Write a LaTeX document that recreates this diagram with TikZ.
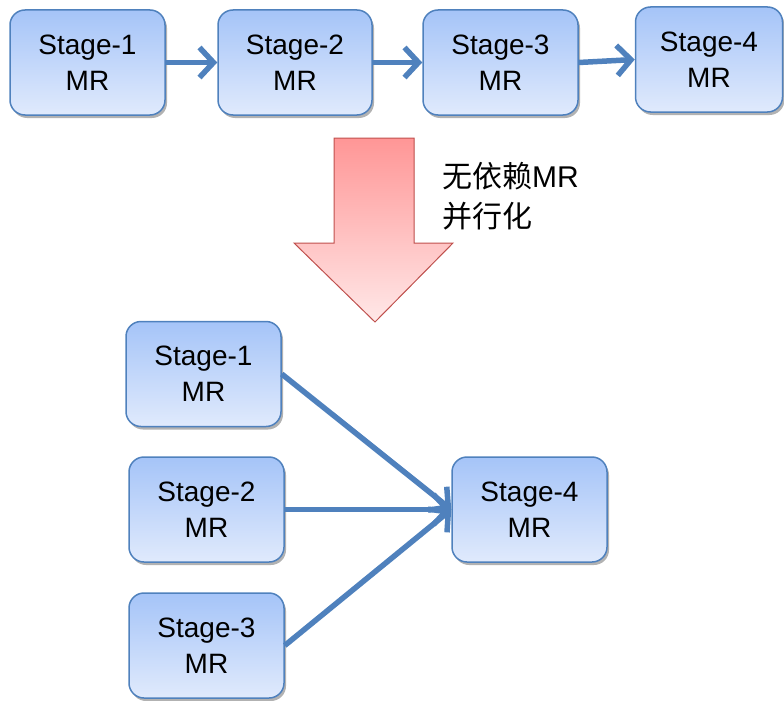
\documentclass[tikz,border=0pt]{standalone}
\usepackage{fontspec}
\setmainfont{Liberation Sans}
\newfontfamily\cjk{Noto Sans CJK SC}
\usetikzlibrary{shadows,arrows.meta}
\definecolor{boxborder}{RGB}{79,129,189}
\definecolor{boxtop}{RGB}{165,196,248}
\definecolor{boxbot}{RGB}{224,234,252}
\definecolor{linkblue}{RGB}{79,129,189}
\definecolor{bigtop}{RGB}{255,150,150}
\definecolor{bigbot}{RGB}{255,232,232}
\definecolor{bigborder}{RGB}{192,80,77}
\tikzset{
  stagebox/.style={rectangle, rounded corners=15pt, draw=boxborder, line width=1.5pt,
    top color=boxtop, bottom color=boxbot, minimum width=155pt, minimum height=105pt,
    align=center, font=\fontsize{28}{36}\selectfont, inner sep=0pt,
    drop shadow={shadow xshift=2pt, shadow yshift=-3pt, fill=black, opacity=0.3}},
  link/.style={draw=linkblue, line width=5.5pt, -{Straight Barb[length=14pt,width=30pt]}},
  note/.style={anchor=west, inner sep=0pt, font=\fontsize{30}{36}\selectfont}
}
\begin{document}
\begin{tikzpicture}[x=1pt,y=-1pt]
\useasboundingbox (0,0) rectangle (784,701);
% top row
\node[stagebox] (s1) at (87.5,62.5) {Stage-1\\MR};
\node[stagebox, minimum width=154pt] (s2) at (295,62.5) {Stage-2\\MR};
\node[stagebox] (s3) at (500.5,62.5) {Stage-3\\MR};
\node[stagebox, minimum width=147pt] (s4) at (709,59.5) {Stage-4\\MR};
\draw[link] (s1.east) -- (s2.west);
\draw[link] (s2.east) -- (s3.west);
\draw[link] (s3.east) -- (s4.west);
% big arrow
\coordinate (a1) at (334,138);
\coordinate (a2) at (414,138);
\coordinate (a3) at (414,243);
\coordinate (a4) at (453,243);
\coordinate (a5) at (375,322);
\coordinate (a6) at (294,243);
\coordinate (a7) at (334,243);
\path[fill=black, opacity=0.3, xshift=2pt, yshift=3pt] (a1) -- (a2) -- (a3) -- (a4) -- (a5) -- (a6) -- (a7) -- cycle;
\path[draw=bigborder, line width=1pt, top color=bigtop, bottom color=bigbot] (a1) -- (a2) -- (a3) -- (a4) -- (a5) -- (a6) -- (a7) -- cycle;
\node[note] (t1) at (442,176) {{\cjk 无依赖}MR};
\node[note] (t2) at (442,216) {\cjk 并行化};
% bottom group
\node[stagebox] (b1) at (203.5,374) {Stage-1\\MR};
\node[stagebox] (b2) at (206.5,509.5) {Stage-2\\MR};
\node[stagebox] (b3) at (206.5,645.5) {Stage-3\\MR};
\node[stagebox] (b4) at (529.5,509.5) {Stage-4\\MR};
\draw[link] (b1.east) -- (b4.west);
\draw[link] (b2.east) -- (b4.west);
\draw[link] (b3.east) -- (b4.west);
\end{tikzpicture}
\end{document}
